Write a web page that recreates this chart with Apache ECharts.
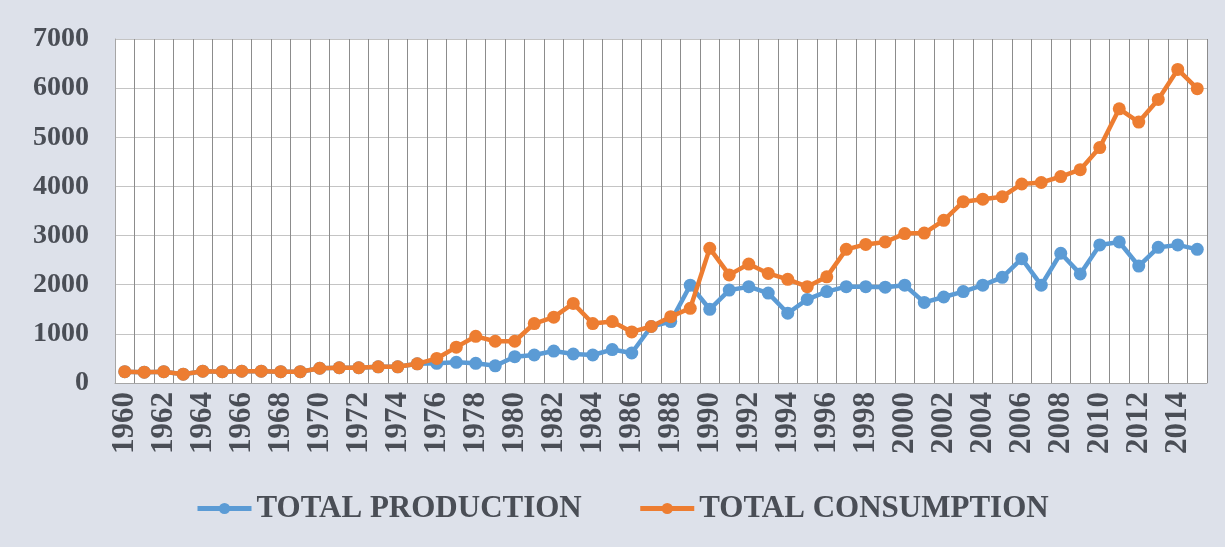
<!DOCTYPE html>
<html>
<head>
<meta charset="utf-8">
<script src="https://cdn.jsdelivr.net/npm/echarts@6/dist/echarts.min.js"></script>
<style>
html,body{margin:0;padding:0;background:#dde1ea;}
#c{width:1225px;height:547px;}
</style>
</head>
<body>
<div id="c"></div>
<script>
var years = [];
for (var y = 1960; y <= 2015; y++) years.push(String(y));

var production = [230,220,230,180,240,230,240,240,230,230,300,310,310,330,330,390,
  400,420,400,350,535,570,650,590,570,680,610,1150,1250,1990,1500,1890,1960,1830,1420,1700,
  1860,1960,1960,1950,1990,1640,1750,1860,1990,2150,2530,1990,2640,2220,2810,2870,2380,2760,2810,2720];

var consumption = [230,220,230,180,240,230,240,240,230,230,300,310,310,330,330,390,
  500,730,950,850,850,1210,1340,1620,1210,1250,1040,1150,1350,1520,2740,2200,2420,2230,2110,1960,
  2160,2720,2820,2870,3040,3050,3310,3690,3740,3790,4050,4080,4200,4340,4790,5580,5310,5770,6380,5990];

var yTicks = [0,1000,2000,3000,4000,5000,6000,7000];

var labelFont = '"Liberation Serif","Times New Roman",serif';

var chart = echarts.init(document.getElementById('c'));
chart.setOption({
  backgroundColor: '#dde1ea',
  animation: false,
  grid: {left: 115, right: 18, top: 39, bottom: 164, show: true, backgroundColor: '#ffffff', borderWidth: 0},
  legend: {
    bottom: 18,
    left: 190,
    itemWidth: 54,
    itemHeight: 14,
    itemGap: 56,
    lineStyle: {width: 5},
    textStyle: {fontFamily: labelFont, fontSize: 31, color: '#4a4e56', fontWeight: 'bold'},
    data: ['TOTAL PRODUCTION', 'TOTAL CONSUMPTION']
  },
  xAxis: {
    type: 'category',
    data: years,
    boundaryGap: true,
    axisLine: {show: true, lineStyle: {color: '#a6a6a6', width: 1}},
    axisTick: {show: false},
    splitLine: {show: true, interval: 0, lineStyle: {color: '#8c8c8c', width: 1}},
    axisLabel: {
      interval: 1,
      rotate: 90,
      margin: 9,
      fontFamily: labelFont,
      fontWeight: 'bold',
      fontSize: 31,
      color: '#4a4e56'
    }
  },
  yAxis: {
    type: 'value',
    min: yTicks[0],
    max: yTicks[yTicks.length - 1],
    interval: 1000,
    axisLine: {show: true, lineStyle: {color: '#a6a6a6', width: 1}},
    axisTick: {show: false},
    splitLine: {show: true, lineStyle: {color: '#c4c4c4', width: 1}},
    axisLabel: {
      margin: 26,
      fontFamily: labelFont,
      fontWeight: 'bold',
      fontSize: 28,
      color: '#4a4e56',
      formatter: function (v) { return String(v); }
    }
  },
  series: [
    {
      name: 'TOTAL PRODUCTION',
      type: 'line',
      data: production,
      symbol: 'circle',
      symbolSize: 13,
      lineStyle: {color: '#5b9bd5', width: 4.5},
      itemStyle: {color: '#5b9bd5'},
      z: 2
    },
    {
      name: 'TOTAL CONSUMPTION',
      type: 'line',
      data: consumption,
      symbol: 'circle',
      symbolSize: 13,
      lineStyle: {color: '#ed7d31', width: 4.5},
      itemStyle: {color: '#ed7d31'},
      z: 3
    }
  ]
});
</script>
</body>
</html>
